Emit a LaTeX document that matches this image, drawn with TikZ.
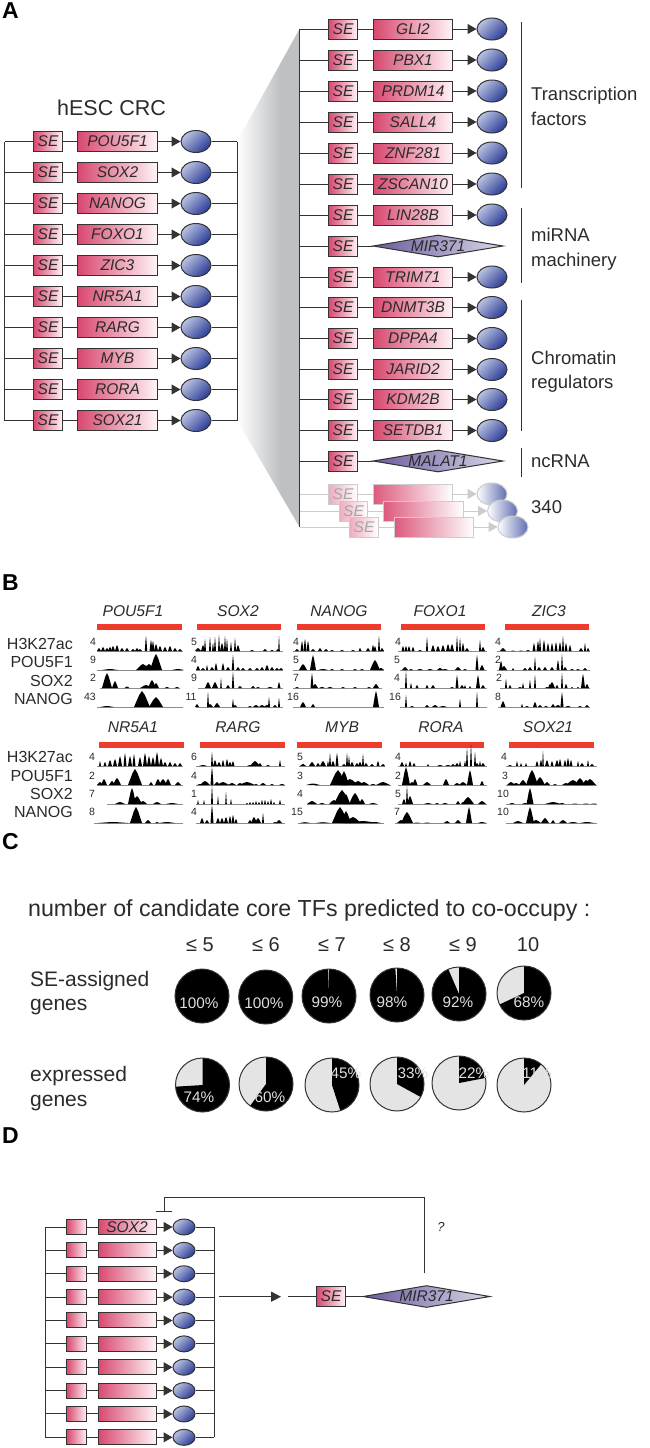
\documentclass[tikz,border=0pt]{standalone}
\usepackage{fontspec}
\setmainfont{Liberation Sans}
\usetikzlibrary{arrows.meta,shapes.geometric}
\definecolor{ink}{HTML}{333333}
\definecolor{txt}{HTML}{2B2B2B}
\definecolor{rosa}{HTML}{D8486F}
\definecolor{rosalt}{HTML}{FFF4F6}
\definecolor{blu}{HTML}{2A3B98}
\definecolor{blult}{HTML}{BAC3E0}
\definecolor{purp}{HTML}{6B5A9E}
\definecolor{purplt}{HTML}{D9D6E6}
\definecolor{faint}{HTML}{CCCCCC}
\definecolor{fungrey}{HTML}{BEC0C2}
\definecolor{redbar}{HTML}{EE3B2B}
\definecolor{piegrey}{HTML}{E4E4E4}
\pgfdeclarehorizontalshading{funnel}{100bp}{color(0bp)=(white); color(25bp)=(white); color(60bp)=(fungrey); color(100bp)=(fungrey)}
\newcommand{\fs}[1]{\fontsize{#1}{#1}\selectfont}
\tikzset{
  conn/.style={draw=ink,line width=1pt},
  tip/.style={conn,-{Triangle[length=9pt,width=10pt]}},
  bigtip/.style={conn,-{Triangle[length=10pt,width=10pt]}},
  sebox/.style={draw=ink,line width=1pt,rectangle,inner sep=0pt,minimum width=28.5pt,minimum height=20pt,left color=rosa,right color=rosalt,text=txt,font=\fs{15.5}\itshape},
  genebox/.style={draw=ink,line width=1pt,rectangle,inner sep=0pt,minimum width=79.5pt,minimum height=20pt,left color=rosa,right color=rosalt,text=txt,font=\fs{15.5}\itshape},
  prot/.style={draw=ink,line width=1pt,ellipse,inner sep=0pt,minimum width=30pt,minimum height=22pt,left color=blult,right color=blu,shading angle=45},
  mirna/.style={draw=ink,line width=1pt,diamond,inner sep=0pt,minimum width=130pt,minimum height=22pt,left color=purp,right color=purplt},
  genetxt/.style={inner sep=0pt,text=txt,font=\fs{15.5}\itshape},
  fadeconn/.style={draw=faint,line width=1pt},
  fadetip/.style={fadeconn,-{Triangle[length=9pt,width=10pt]}},
  fadese/.style={sebox,draw=faint,left color=rosa!45,right color=white,text=black!35},
  fadegene/.style={genebox,draw=faint,left color=rosa!90,right color=white},
  fadeprot/.style={prot,draw=faint,left color=white,right color=blu!75},
  smallse/.style={sebox,minimum width=20pt,minimum height=15pt},
  smallgene/.style={genebox,minimum width=58pt,minimum height=15pt},
  smallprot/.style={prot,minimum width=22pt,minimum height=16pt},
  lab/.style={inner sep=0pt,anchor=base west,text=txt},
  panel/.style={inner sep=0pt,anchor=west,text=black,font=\fs{23}\bfseries},
  title/.style={inner sep=0pt,anchor=base,text=txt,font=\fs{15.6}\itshape},
  rowlab/.style={inner sep=0pt,anchor=base east,text=txt,font=\fs{16}},
  num/.style={inner sep=0pt,text=txt,font=\fs{10.5}},
  pct/.style={inner sep=0pt,text=black!12,font=\fs{15.3}},
  head/.style={inner sep=0pt,anchor=base,text=txt,font=\fs{20}},
  trackbase/.style={draw=black!45,line width=.5pt},
  pieline/.style={draw=ink,line width=1pt}
}
\newcommand{\trk}[4]{%
  \draw[trackbase] (#2,#1) -- (#3,#1);
  \foreach \px/\ph/\pw in {#4}{%
    \fill[black] (\px-\pw,#1) -- (\px-.35*\pw,#1-.75*\ph) -- (\px,#1-\ph) -- (\px+.35*\pw,#1-.75*\ph) -- (\px+\pw,#1) -- cycle;
  }%
}
\newcommand{\piechart}[3]{%
  \begin{scope}[shift={(#1,#2)}]
    \fill[piegrey] (0,0) circle (27pt);
    \fill[black] (0,0) -- (90:27pt) arc[start angle=90,end angle={90-3.6*#3},radius=27pt] -- cycle;
    \draw[pieline] (0,0) circle (27pt);
  \end{scope}%
}
\begin{document}
\begin{tikzpicture}[x=1pt,y=-1pt]
\useasboundingbox (0,0) rectangle (650,1448);
\fill[white] (0,0) rectangle (650,1448);
% ---------- panel letters
\node[panel] (pA) at (2,11) {A};
\node[panel] (pB) at (2,583) {B};
\node[panel] (pC) at (2,842) {C};
\node[panel] (pD) at (2,1136) {D};
% ---------- funnel
\shade[shading=funnel] (237,141.5) -- (299.5,29) -- (299.5,527) -- (237,420) -- cycle;
% ---------- A left
\node[lab,anchor=base,font=\fs{21.5}] (crc) at (111.5,115) {hESC CRC};
\foreach \g [count=\i] in {POU5F1,SOX2,NANOG,FOXO1,ZIC3,NR5A1,RARG,MYB,RORA,SOX21}{%
  \pgfmathsetmacro\yy{141.5+31*(\i-1)}
  \coordinate (ll\i) at (4.5,\yy);
  \coordinate (lr\i) at (237,\yy);
  \node[sebox] (lse\i) at (48,\yy) {SE};
  \node[genebox] (lg\i) at (117.5,\yy) {\g};
  \node[prot] (lp\i) at (196,\yy) {};
  \draw[conn] (ll\i) -- (lse\i);
  \draw[conn] (lse\i) -- (lg\i);
  \draw[tip] (lg\i) -- (lp\i);
  \draw[conn] (lp\i) -- (lr\i);
}
\draw[conn] (ll1) -- (ll10);
\draw[conn] (lr1) -- (lr10);
% ---------- A right
\coordinate (rtop) at (299.5,29);
\coordinate (rbot) at (299.5,527);
\foreach \g/\yy in {GLI2/29,PBX1/60,PRDM14/91,SALL4/122,ZNF281/153,ZSCAN10/184,LIN28B/215,TRIM71/277,DNMT3B/307.5,DPPA4/338.5,JARID2/369.5,KDM2B/399.5,SETDB1/430.5}{%
  \coordinate (rl\g) at (299.5,\yy);
  \node[sebox] (rse\g) at (343,\yy) {SE};
  \node[genebox] (rg\g) at (413,\yy) {\g};
  \node[prot] (rp\g) at (492,\yy) {};
  \draw[conn] (rl\g) -- (rse\g);
  \draw[conn] (rse\g) -- (rg\g);
  \draw[tip] (rg\g) -- (rp\g);
}
\foreach \g/\yy in {MIR371/246,MALAT1/461}{%
  \coordinate (rl\g) at (299.5,\yy);
  \node[sebox] (rse\g) at (343,\yy) {SE};
  \node[mirna] (rd\g) at (438,\yy) {};
  \node[genetxt] (rt\g) at (rd\g) {\g};
  \draw[conn] (rl\g) -- (rse\g);
  \draw[conn] (rse\g) -- (rd\g);
}
% faded rows
\foreach \yy/\dx [count=\i] in {494/0,511/10.5,527/21}{%
  \coordinate (fl\i) at (299.5,\yy);
  \node[fadese] (fse\i) at (343+\dx,\yy) {SE};
  \node[fadegene] (fg\i) at (413+\dx,\yy) {};
  \node[fadeprot] (fp\i) at (492+\dx,\yy) {};
  \draw[fadeconn] (fl\i) -- (fse\i);
  \draw[fadeconn] (fse\i) -- (fg\i);
  \draw[fadetip] (fg\i) -- (fp\i);
}
\draw[conn] (rtop) -- (rbot);
% brackets
\foreach \a/\b [count=\i] in {22/188,208/283,300/431,448/477}{%
  \coordinate (bt\i) at (521.5,\a);
  \coordinate (bb\i) at (521.5,\b);
  \draw[conn] (bt\i) -- (bb\i);
}
\node[lab,font=\fs{18.5}] (ca1) at (531,100.5) {Transcription};
\node[lab,font=\fs{18.5}] (ca2) at (531,125) {factors};
\node[lab,font=\fs{18.5}] (ca3) at (531,241) {miRNA};
\node[lab,font=\fs{18.5}] (ca4) at (531,266) {machinery};
\node[lab,font=\fs{18.5}] (ca5) at (531,364) {Chromatin};
\node[lab,font=\fs{18.5}] (ca6) at (531,388) {regulators};
\node[lab,font=\fs{18.5}] (ca7) at (531,467) {ncRNA};
\node[lab,font=\fs{18.5}] (ca8) at (531,513.5) {340};
% ---------- B titles and bars
\foreach \g/\xc/\xa/\xb [count=\i] in {POU5F1/133/97/182,SOX2/238/197/281,NANOG/339/297/381,FOXO1/440/401/485,ZIC3/549/505/589}{%
  \node[title] (ta\i) at (\xc,616.5) {\g};
  \fill[redbar] (\xa,624) rectangle (\xb,630);
}
\foreach \g/\xc/\xa/\xb [count=\i] in {NR5A1/133/99/184,RARG/238/200/285,MYB/342/297/382,RORA/441/400/484,SOX21/548/509/594}{%
  \node[title] (tb\i) at (\xc,732.7) {\g};
  \fill[redbar] (\xa,742) rectangle (\xb,748);
}
\foreach \g/\yy [count=\i] in {H3K27ac/649,POU5F1/667.7,SOX2/686,NANOG/704}{%
  \node[rowlab] (ra\i) at (73,\yy) {\g};
}
\foreach \g/\yy [count=\i] in {H3K27ac/762,POU5F1/781,SOX2/799,NANOG/817}{%
  \node[rowlab] (rb\i) at (73,\yy) {\g};
}
% numbers
\foreach \t/\x/\y [count=\i] in {4/93/642,9/93/660,2/93/678,43/90/697,5/194/642,4/194/660,9/194/678,11/191/697,4/296/642,5/296/660,7/296/678,16/293/697,4/398/642,5/397/660,4/397/678,16/395/697,4/498/642,2/498/660,2/499/678,8/498/697}{%
  \node[num] (na\i) at (\x,\y) {\t};
}
\foreach \t/\x/\y [count=\i] in {4/92/757,2/92/776,7/92/794,8/92/812,6/194/757,4/194/776,1/194/794,4/194/812,5/300/757,3/300/776,4/300/794,15/297/812,4/398/757,2/398/776,5/398/794,7/397/812,4/504/757,3/505/776,10/503/794,10/503/812}{%
  \node[num] (nb\i) at (\x,\y) {\t};
}
% tracks, first block
\trk{651}{97}{183}{99/3/2,103/4/2,107/3/2,110/4/2,113/5/2,117/6/2,122/3/2,127/3/2,133/2/2,137/3/2,140/2/2,146/15/1.2,151/11/1.5,153/10/1.5,156/7/2,160/5/2,165/4/2,170/5/2,175/3/2,180/2/2}
\trk{670}{97}{183}{110/1/8,143/6/7,149/6/6,156/16/6,178/1/6}
\trk{688}{100}{180}{107/15/5,115/7/3,127/1.5/2.5,146/3/6,152/8/4,156/5/3,167/1/2.5,177/1/2.5}
\trk{707}{97}{183}{107/1/7,142/16/8,156/10/7}
\trk{651}{196}{283}{198/3/3,203/6/2,205/12/1,210/14/1,213/8/1,215/14/1,219/16/1,222/8/2,225/15/1,227/12/1,231/9/1,235/13/1,238/6/2,252/1/2,265/2/2,272/1/2,278/2/2,279/15/.8}
\trk{670}{196}{283}{198/4/2,203/2/2,207/5/1,212/3/2,216/7/1.5,223/7/1.5,228/3/2,233/15/1.2,238/3/2,243/2/2,250/2/2,257/2/2,262/3/2,267/5/2,272/3/2,277/2/2,281/2/2}
\trk{688}{198}{283}{208/6/3,215/6/3,221/10/.8,228/3/2,233/16/1.2,240/2/2,253/2/2,258/1/2,270/1/3,279/6/1.5}
\trk{707}{196}{283}{197/3/2,208/15/1,210/3/3,217/4/3,233/8/1,235/2/2,250/1/2,256/2/3,262/2/3,267/2/3,269/10/1,275/2/2,279/9/1}
\trk{651}{293}{384}{297/2/2,302/10/1.5,305/12/1.5,308/10/1.5,313/2/2,320/3/2,326/2/2,332/1/2,342/1/2,353/1/2,360/3/1.5,368/3/2,373/6/1.5,375/5/1.5,379/15/1,382/3/2}
\trk{670}{293}{384}{303/6/4,313/15/3,323/1/5,332/1/2,342/1/2,355/1/2,362/1/2,375/10/5,381/2/3}
\trk{688}{293}{382}{297/1/2,312/15/1.5,315/4/3,322/1/3,330/1/3,343/1/2,355/1/2,369/1/2,376/4/3}
\trk{707}{293}{384}{303/5/3,313/3/2,376/16/3}
\trk{651}{398}{487}{403/5/1.5,406/5/1.5,409/5/1.5,413/4/1.5,420/1/2,427/14/1,433/6/2,438/5/2,443/6/2,448/7/2,452/7/2,457/15/1,460/13/1,463/8/1.5,467/3/2,480/11/1,483/4/2}
\trk{670}{400}{487}{405/3/3,411/1/2,420/1/3,430/1/3,440/2/3,445/1/3,458/3/3,465/1/2,477/15/1.5,482/5/2.5}
\trk{688}{400}{487}{406/17/1,411/5/1,417/3/1.5,427/3/1.5,433/3/2,452/1/2,457/13/1.5,462/3/2,465/3/1,470/2/1,478/13/2,483/3/2}
\trk{707}{400}{487}{406/12/1,412/1/2,427/2/2,435/2/3,443/1/4,460/8/1,477/15/1}
\trk{651}{497}{590}{503/3/3,513/.5/2,521/.5/2,528/1/2,534/8/1.5,538/10/1.5,540/13/1,544/11/1.5,548/8/1.5,552/8/1.5,556/9/1.5,560/9/1.5,563/15/1,566/8/1.5,570/6/1.5,581/3/2,585/8/1,588/3/1.5}
\trk{670}{497}{590}{501/9/2,504/4/3,513/2/1,525/2/2,530/3/2,535/13/1,539/3/2,545/3/2,552/3/2,558/10/1.5,562/16/1,565/3/2,572/1/2,578/1/2,585/2/2}
\trk{688}{500}{590}{506/9/1,510/3/1.5,520/1/2,523/5/1,530/8/1,535/13/1,547/1/2,550/4/2,552/6/3,557/3/1.5,562/15/1,566/4/1.5,572/1/1,578/1/1,583/14/2,587/4/2}
\trk{707}{498}{590}{503/6/2.5,522/3/1,527/1/2,535/5/2,540/2/2,546/1/2,553/3/2,558/2/3,562/15/1.5,568/1/3,580/1/2,587/2/2}
% tracks, second block
\trk{766}{97}{183}{100/5/1,105/4/1.5,110/6/2,115/7/2,120/10/2,125/13/1.5,130/10/2,134/12/1.5,140/9/2,145/13/2,149/10/2,153/9/2,157/14/2,161/8/2,165/4/2,170/4/2,175/3/2,180/3/2}
\trk{785}{97}{183}{100/3/3,104/6/3,112/4/3,117/7/4,135/16/7,151/3/2,158/6/3,163/6/4,168/6/3,178/3/3}
\trk{804}{107}{183}{120/2/5,132/16/4,137/8/5,143/3/4,157/2/4,172/1/6}
\trk{823}{94}{183}{113/1/15,136/16/6,148/3/3,157/1/2,167/1/8}
\trk{766}{196}{285}{203/1/4,212/14/1,215/6/2,219/4/2,223/6/1.5,227/7/1.5,230/4/2,233/5/1.5,250/1/3,255/5/5,260/3/2,268/1/2,280/6/1}
\trk{785}{196}{285}{200/1/3,205/4/5,212/18/1.5,217/3/3,223/3/6,232/2/4,240/2/3,247/3/8,256/1/2,263/2/3,272/1/2,282/1/3}
\trk{804}{196}{285}{198/4/.8,204/4/.8,212/18/1,218/8/.8,226/12/.8,231/5/.8,247/1/1,250/2/1,253/2/1,256/3/1,259/2/1,262/4/1,265/4/1,268/3/1,271/5/1,274/2/1,280/4/1}
\trk{823}{196}{285}{202/5/2,207/3/2,212/18/1.5,218/5/2,222/5/2,226/6/2,230/7/1.5,233/8/1.5,236/4/1.5,250/3/2,254/6/3,258/5/3,263/10/1,275/1/2,279/3/3}
\trk{766}{299}{385}{303/2/3,312/4/3,318/3/2,323/5/3,328/5/1,330/13/1,333/5/2,337/13/1.5,344/2/2,347/13/1,349/10/1,352/4/2,357/3/2,360/4/2,363/12/1,366/3/2,372/2/2,378/5/1.5,383/2/2}
\trk{785}{315}{391}{313/1.5/7,338/15/8,344/14/5,350/6/8,358/4/6,364/3/5,373/1/3,383/3/7}
\trk{804}{307}{378}{312/3/5,322/1/3,334/4/5,342/14/8,346/10/4,355/11/6,362/5/3,373/1/4}
\trk{823}{298}{384}{305/.8/5,323/.8/7,340/16/8,346/12/5,353/6/8,363/2/14,375/1/6}
\trk{766}{398}{487}{402/4/2,406/3/1,410/5/1.5,414/3/1.5,428/2/1,440/1/3,448/1/3,453/2/2,457/3/2,460/5/1,465/5/1,467/18/1,471/21/1,475/14/1,477/3/2,480/5/1,483/3/2}
\trk{785}{398}{487}{406/18/4,412/3/3,415/6/2.5,427/3/4,446/6/3,457/2/3,463/3/4,470/15/3,482/4/2}
\trk{804}{398}{487}{404/5/2,407/18/1,410/8/3,428/1/4,437/1/2,445/1/3,458/3/2,463/2/2,468/7/6,482/3/4}
\trk{823}{395}{487}{401/3/4,407/11/6,417/.5/3,427/.5/3,447/2/3,458/3/3,469/16/3,482/1/4}
\trk{766}{506}{597}{510/1/2,517/5/1,521/3/1,526/3/1,537/5/1.5,541/6/1.5,543/15/.8,547/6/2,552/5/1.5,557/6/2,560/7/1.5,565/6/1.5,568/8/1.5,571/6/1.5,578/5/1,582/3/2,588/6/1,592/2/2}
\trk{785}{506}{597}{511/3/4,516/2/4,523/5/4,532/15/6,540/8/5,547/3/3,555/1/2,566/2/4,573/5/7,580/7/5,586/5/4,590/6/6}
\trk{804}{506}{597}{512/1/3,525/1/3,530/16/3.5,553/2/8,562/1/3,575/.5/3,586/.5/3,594/.5/3}
\trk{823}{506}{597}{518/2/5,530/16/4,536/3/5,545/5/4,553/3/2,563/3/4,573/1/5,587/1/7}
% ---------- C
\node[lab,font=\fs{23.2}] (ctitle) at (28,916.7) {number of candidate core TFs predicted to co-occupy :};
\foreach \t/\x [count=\i] in {≤ 5/200,≤ 6/266,≤ 7/332,≤ 8/397,≤ 9/463,10/528}{%
  \node[head] (h\i) at (\x,951.7) {\t};
}
\node[lab,font=\fs{21}] (cl1) at (30,986.7) {SE-assigned};
\node[lab,font=\fs{21}] (cl2) at (30,1010.7) {genes};
\node[lab,font=\fs{21}] (cl3) at (30,1081.7) {expressed};
\node[lab,font=\fs{21}] (cl4) at (30,1106.7) {genes};
\piechart{202}{996}{100}
\piechart{265.7}{997}{100}
\piechart{329}{996}{99.5}
\piechart{397}{995}{99}
\piechart{459}{994}{93.5}
\piechart{524}{993}{68}
\piechart{202.5}{1085}{74}
\piechart{266}{1084}{60}
\piechart{332}{1085}{45}
\piechart{397}{1084}{33}
\piechart{459}{1083}{22}
\piechart{524}{1085}{11}
\foreach \t/\x/\y [count=\i] in {100/199/1003,100/264/1003,99/327/1002,98/392/1002,92/458/1002,68/529/1002,74/199/1097,60/270/1097,45/346/1073,33/413/1073,22/474/1073,11/537/1073}{%
  \node[pct] (pc\i) at (\x,\y) {\t\%};
}
% ---------- D
\foreach \i in {1,...,10}{%
  \pgfmathsetmacro\yy{1227+23.37*(\i-1)}
  \coordinate (dl\i) at (45,\yy);
  \coordinate (dr\i) at (214,\yy);
  \node[smallse] (dse\i) at (76.7,\yy) {};
  \ifnum\i=1
    \node[smallgene] (dg\i) at (127,\yy) {SOX2};
  \else
    \node[smallgene] (dg\i) at (127,\yy) {};
  \fi
  \node[smallprot] (dp\i) at (184,\yy) {};
  \draw[conn] (dl\i) -- (dse\i);
  \draw[conn] (dse\i) -- (dg\i);
  \draw[tip] (dg\i) -- (dp\i);
  \draw[conn] (dp\i) -- (dr\i);
}
\draw[conn] (dl1) -- (dl10);
\draw[conn] (dr1) -- (dr10);
\coordinate (ma) at (219,1296.7);
\coordinate (mb) at (281,1296.7);
\coordinate (mc) at (288,1296.5);
\draw[bigtip] (ma) -- (mb);
\node[sebox] (dse) at (331,1296.5) {SE};
\node[mirna,minimum width=127pt] (dmir) at (426.5,1296.5) {};
\node[genetxt] (dmirt) at (dmir) {MIR371};
\draw[conn] (mc) -- (dse);
\draw[conn] (dse) -- (dmir);
\coordinate (fa) at (424.5,1273);
\coordinate (fb) at (424.5,1197);
\coordinate (fc) at (164,1197);
\coordinate (fd) at (164,1212);
\draw[conn,-{Bar[width=16pt,line width=1pt]}] (fa) -- (fb) -- (fc) -- (fd);
\node[inner sep=0pt,text=txt,font=\fs{13}\itshape] (dq) at (441,1227) {?};
\end{tikzpicture}
\end{document}
